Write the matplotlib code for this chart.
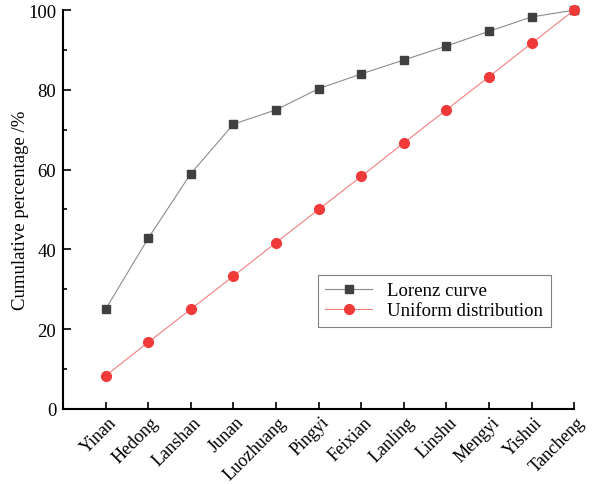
import matplotlib
matplotlib.use('Agg')
import matplotlib.pyplot as plt
import matplotlib.transforms as mtransforms
from matplotlib.ticker import MultipleLocator

plt.rcParams['font.family'] = ['Liberation Serif', 'DejaVu Serif']

# data
counties = ['Yinan', 'Hedong', 'Lanshan', 'Junan', 'Luozhuang', 'Pingyi',
            'Feixian', 'Lanling', 'Linshu', 'Mengyi', 'Yishui', 'Tancheng']
lorenz = [25.0, 42.8, 59.0, 71.4, 75.0, 80.3, 84.0, 87.5, 91.0, 94.7, 98.3, 100.0]
uniform = [8.3, 16.7, 25.0, 33.3, 41.7, 50.0, 58.3, 66.7, 75.0, 83.3, 91.7, 100.0]

fig = plt.figure(figsize=(5.95, 4.85), dpi=100)
ax = fig.add_axes([0.106, 0.155, 0.859, 0.822])

x = list(range(len(counties)))
ax.plot(x, lorenz, color='#8c8c8c', lw=0.8, marker='s', ms=6,
        mfc='#404040', mec='#404040', label='Lorenz curve', zorder=3, clip_on=False)
ax.plot(x, uniform, color='#f08080', lw=0.8, marker='o', ms=7,
        mfc='#f03a3a', mec='#f03a3a', label='Uniform distribution', zorder=3, clip_on=False)

ax.set_xlim(-1, 11)
ax.set_ylim(0, 100)
ax.set_xticks(x)

ax.yaxis.set_major_locator(MultipleLocator(20))
ax.yaxis.set_minor_locator(MultipleLocator(10))
ax.tick_params(axis='y', direction='in', width=1.2, labelsize=13.5)
ax.tick_params(axis='x', direction='in', width=1.2)
ax.tick_params(axis='y', which='major', length=6, pad=5)
ax.tick_params(axis='y', which='minor', length=3, width=1.2, direction='in')
ax.tick_params(axis='x', length=5, pad=9)

ax.set_xticklabels(counties, rotation=45, ha='right', va='center',
                   rotation_mode='anchor', fontsize=13)
# shift the rotated labels a little to the right, like the original
shift = mtransforms.ScaledTranslation(8 / 100, 2 / 100, fig.dpi_scale_trans)
for lab in ax.get_xticklabels():
    lab.set_transform(lab.get_transform() + shift)

for s in ['top', 'right']:
    ax.spines[s].set_visible(False)
for s in ['left', 'bottom']:
    ax.spines[s].set_linewidth(1.5)

ax.set_ylabel('Cumulative percentage /%', fontsize=13.5, labelpad=-1)

leg = ax.legend(loc='upper left', bbox_to_anchor=(0.48, 0.36), fontsize=13.5,
                fancybox=False, framealpha=1, edgecolor='#808080',
                borderpad=0.4, labelspacing=0.15, handlelength=2.5)
leg.get_frame().set_linewidth(0.8)

plt.savefig('out.png', dpi=100)
